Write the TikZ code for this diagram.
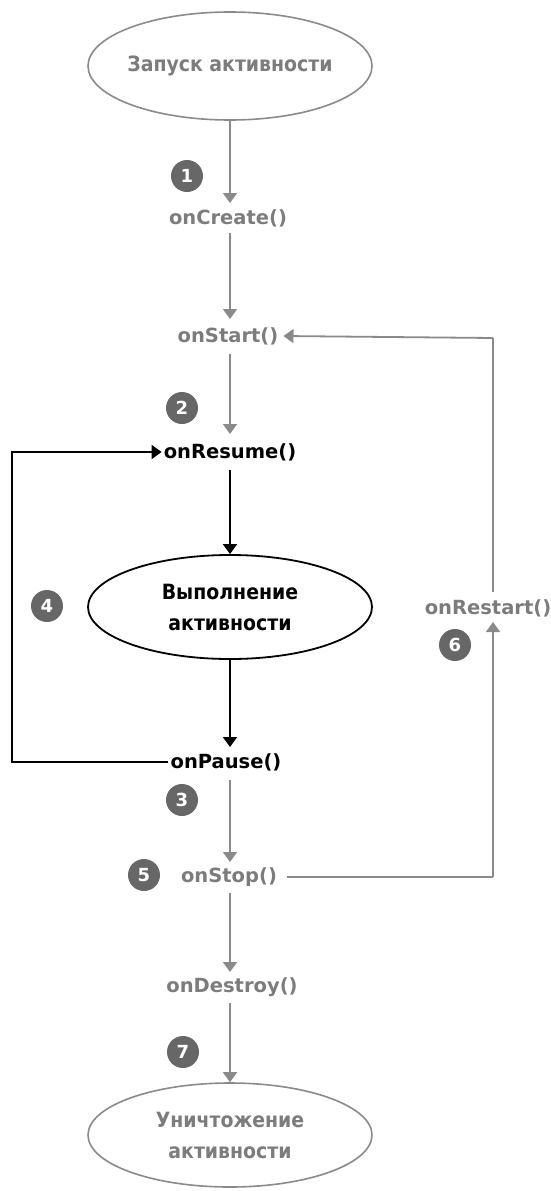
\documentclass[tikz,border=0pt]{standalone}
\usepackage{fontspec}
\setmainfont{DejaVu Sans}
\newfontfamily\ellfont{DejaVu Sans Condensed}
\usetikzlibrary{arrows.meta,shapes.geometric}
\definecolor{lgray}{HTML}{8A8A8A}
\definecolor{tgray}{HTML}{7C7C7C}
\definecolor{bgray}{HTML}{676767}
\tikzset{
  gline/.style={draw=lgray, line width=1.8pt},
  bline/.style={draw=black, line width=1.8pt},
  garrow/.style={gline, -{Triangle[width=14pt,length=10pt]}},
  barrow/.style={bline, -{Triangle[width=14pt,length=10pt]}},
  glabel/.style={text=tgray, font=\bfseries\fontsize{19.5}{22}\selectfont, inner sep=2pt},
  blabel/.style={text=black, font=\bfseries\fontsize{19.5}{22}\selectfont, inner sep=2pt},
  badge/.style={circle, fill=bgray, text=white, minimum size=32pt, inner sep=0pt, font=\bfseries\fontsize{18}{18}\selectfont},
  gell/.style={ellipse, draw=lgray, line width=1.6pt, minimum width=284pt, minimum height=108pt, inner sep=0pt},
  bell/.style={ellipse, draw=black, line width=1.8pt, minimum width=284pt, minimum height=104pt, inner sep=0pt},
  gtxt/.style={text=tgray, align=center, font=\ellfont\bfseries\fontsize{21}{31}\selectfont},
  btxt/.style={text=black, align=center, font=\ellfont\bfseries\fontsize{21}{31}\selectfont},
}
\begin{document}
\begin{tikzpicture}[x=1pt,y=-1pt]
\useasboundingbox (0,0) rectangle (550,1191);
\node[gell, label={[gtxt]center:Запуск активности}] (start) at (230,66) {};
\node[glabel] (create) at (228,218) {onCreate()};
\node[glabel] (onstart) at (228,336) {onStart()};
\node[blabel] (resume) at (230,452) {onResume()};
\node[bell, label={[btxt]center:Выполнение\\активности}] (run) at (230,607) {};
\node[blabel] (pause) at (226,762) {onPause()};
\node[glabel] (stop) at (229,877) {onStop()};
\node[glabel] (restart) at (488,608) {onRestart()};
\node[glabel] (destroy) at (232,987) {onDestroy()};
\node[gell, minimum height=104pt, label={[gtxt]center:Уничтожение\\активности}] (end) at (230,1135) {};

\node[badge] (b1) at (187,176) {1};
\node[badge] (b2) at (182,408) {2};
\node[badge] (b3) at (182,800) {3};
\node[badge] (b4) at (47,606) {4};
\node[badge] (b5) at (144,875) {5};
\node[badge] (b6) at (455,645) {6};
\node[badge] (b7) at (183,1052) {7};

\coordinate (l1) at (12,762);
\coordinate (l2) at (12,452);
\coordinate (r1) at (493,877);
\coordinate (r2) at (493,338);

\draw[garrow] (start.south) -- (230,203);
\draw[garrow] (230,233) -- (230,319);
\draw[garrow] (230,354) -- (230,434);
\draw[barrow] (230,470) -- (run.north);
\draw[barrow] (run.south) -- (230,747);
\draw[garrow] (230,780) -- (230,862);
\draw[garrow] (230,893) -- (230,972);
\draw[garrow] (230,1003) -- (end.north);
\draw[barrow] (pause.west) -- (l1) -- (l2) -- (resume.west);
\draw[gline] ([xshift=8pt]stop.east) -- (r1);
\draw[garrow] (r1) -- (493,622);
\draw[gline] (493,592) -- (r2);
\draw[garrow] (r2) -- ([xshift=3pt]onstart.east);
\end{tikzpicture}
\end{document}
